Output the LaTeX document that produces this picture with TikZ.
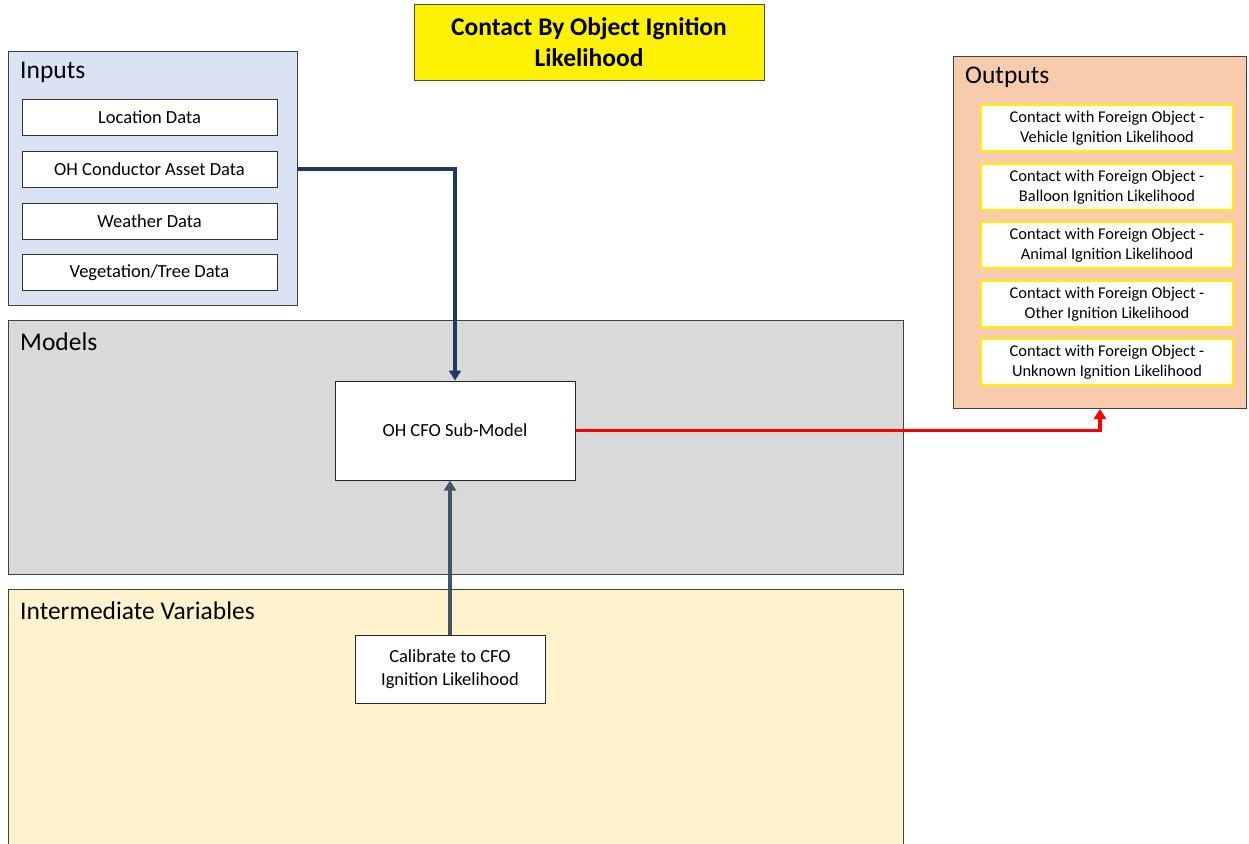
\documentclass[tikz,border=0pt]{standalone}
\usepackage{fontspec}
\setmainfont{Carlito}
\usetikzlibrary{arrows.meta}
\definecolor{inblue}{RGB}{218,227,243}
\definecolor{modgray}{RGB}{217,217,217}
\definecolor{interyel}{RGB}{255,242,204}
\definecolor{outpeach}{RGB}{248,203,173}
\definecolor{linkblue}{RGB}{31,56,100}
\definecolor{slate}{RGB}{68,84,106}
\definecolor{boxyel}{RGB}{255,240,0}
\tikzset{
  panel/.style={draw=black!75,line width=1pt,anchor=north west,inner sep=0pt},
  panellabel/.style={font=\fontsize{25.5}{30}\selectfont,anchor=west,inner sep=0pt},
  databox/.style={draw=black!80,fill=white,line width=1pt,minimum width=255pt,minimum height=36pt,inner sep=0pt,font=\fontsize{18.5}{22}\selectfont},
  outbox/.style={draw=boxyel,fill=white,line width=1.2pt,minimum width=252pt,minimum height=46pt,inner sep=0pt,align=center,font=\fontsize{16.4}{20}\selectfont},
  link/.style={line width=3.5pt,-{Triangle[length=10pt,width=12pt]}}
}
\begin{document}
\begin{tikzpicture}[x=1pt,y=-1pt,line cap=butt,line join=miter]
  \useasboundingbox (0,0) rectangle (1249,843);

  % title
  \node[draw=black!70,fill=yellow,line width=1pt,minimum width=350pt,minimum height=75pt,align=center,
        font=\bfseries\fontsize{25.5}{31}\selectfont] (title) at (589,42.5) {Contact By Object Ignition\\Likelihood};

  % panels
  \node[panel,fill=inblue,minimum width=289pt,minimum height=254pt] (inputs) at (8,51) {};
  \node[panellabel] at (20,72) {Inputs};
  \node[panel,fill=modgray,minimum width=895pt,minimum height=254pt] (models) at (8,320) {};
  \node[panellabel] at (20,342) {Models};
  \node[panel,fill=interyel,minimum width=895pt,minimum height=270pt] (inter) at (8,589) {};
  \node[panellabel] at (20,611) {Intermediate Variables};
  \node[panel,fill=outpeach,minimum width=293pt,minimum height=352pt] (outputs) at (953,56) {};
  \node[panellabel] at (965,77) {Outputs};

  % inputs
  \node[databox] (location) at (149.5,117) {Location Data};
  \node[databox] (asset) at (149.5,169) {OH Conductor Asset Data};
  \node[databox] (weather) at (149.5,221) {Weather Data};
  \node[databox] (veg) at (149.5,272.5) {Vegetation/Tree Data};

  % outputs
  \node[outbox] (vehicle) at (1107,128) {Contact with Foreign Object -\\Vehicle Ignition Likelihood};
  \node[outbox] (balloon) at (1107,187) {Contact with Foreign Object -\\Balloon Ignition Likelihood};
  \node[outbox] (animal) at (1107,245) {Contact with Foreign Object -\\Animal Ignition Likelihood};
  \node[outbox] (other) at (1107,304) {Contact with Foreign Object -\\Other Ignition Likelihood};
  \node[outbox] (unknown) at (1107,362) {Contact with Foreign Object -\\Unknown Ignition Likelihood};

  % model and calibration
  \node[draw=black!85,fill=white,line width=1pt,minimum width=240pt,minimum height=99pt,inner sep=0pt,
        font=\fontsize{18.5}{22}\selectfont] (cfo) at (455,430.5) {OH CFO Sub-Model};
  \node[draw=black!85,fill=white,line width=1pt,minimum width=190pt,minimum height=68pt,inner sep=0pt,align=center,
        font=\fontsize{18.5}{23}\selectfont] (calib) at (450,669) {Calibrate to CFO\\Ignition Likelihood};

  % links
  \draw[link,draw=linkblue] (asset.east -| inputs.east) -| (cfo.north);
  \draw[link,draw=slate] (calib.north) -- (calib.north |- cfo.south);
  \draw[link,draw=red] (cfo.east) -| (outputs.south);
\end{tikzpicture}
\end{document}
